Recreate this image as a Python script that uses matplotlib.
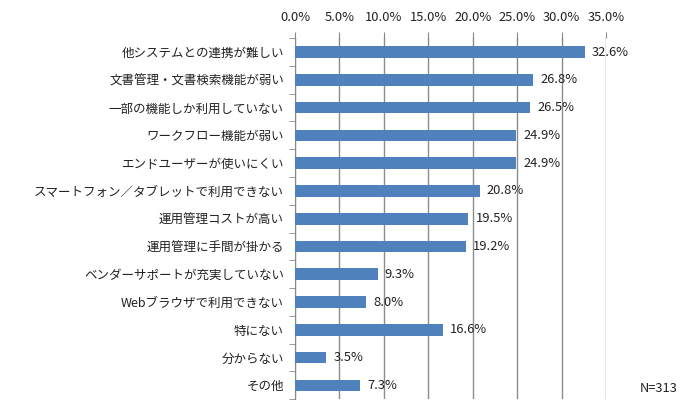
import numpy as np
import matplotlib
matplotlib.use("Agg")
from matplotlib import pyplot as plt
from matplotlib.ticker import FixedLocator

plt.rcParams['font.family'] = ['Noto Sans CJK JP', 'DejaVu Sans']

categories = ["他システムとの連携が難しい", "文書管理・文書検索機能が弱い", "一部の機能しか利用していない",
              "ワークフロー機能が弱い", "エンドユーザーが使いにくい", "スマートフォン／タブレットで利用できない",
              "運用管理コストが高い", "運用管理に手間が掛かる", "ベンダーサポートが充実していない",
              "Webブラウザで利用できない", "特にない", "分からない", "その他"]
values = [32.6, 26.8, 26.5, 24.9, 24.9, 20.8, 19.5, 19.2, 9.3, 8.0, 16.6, 3.5, 7.3]
ticks = [0, 5, 10, 15, 20, 25, 30, 35]

fig = plt.figure(figsize=(6.91, 4.15), dpi=100)
ax = fig.add_axes([0.427, 0.038, 0.45, 0.870])

y = np.arange(len(categories))
ax.barh(y, values, height=0.42, color="#4F81BD", zorder=3)
for yi, v in zip(y, values):
    ax.text(v + 0.8, yi, f"{v:.1f}%", va="center", ha="left", fontsize=9.3, color="#222222", zorder=4)

ax.set_xlim(0, 35)
ax.set_ylim(len(categories) - 0.5, -0.5)
ax.xaxis.tick_top()
ax.set_xticks(ticks)
ax.set_xticklabels([f"{t:.1f}%" for t in ticks], fontsize=9.3, color="#222222")
ax.set_yticks(y)
ax.set_yticklabels(categories, fontsize=9, color="#222222")
ax.yaxis.set_minor_locator(FixedLocator(np.arange(-0.5, len(categories), 1)))
ax.tick_params(axis="y", which="major", length=0, pad=8)
ax.tick_params(axis="y", which="minor", length=4, color="#888888")
ax.tick_params(axis="x", length=4, color="#888888", pad=6)
ax.grid(axis="x", color="#8c8c8c", linewidth=1, zorder=0)
for s in ["right", "bottom", "top"]:
    ax.spines[s].set_visible(False)
ax.spines["left"].set_color("#888888")

fig.text(0.981, 0.063, "N=313", ha="right", va="center", fontsize=9.3, color="#222222")

fig.savefig("out.png", dpi=100)
